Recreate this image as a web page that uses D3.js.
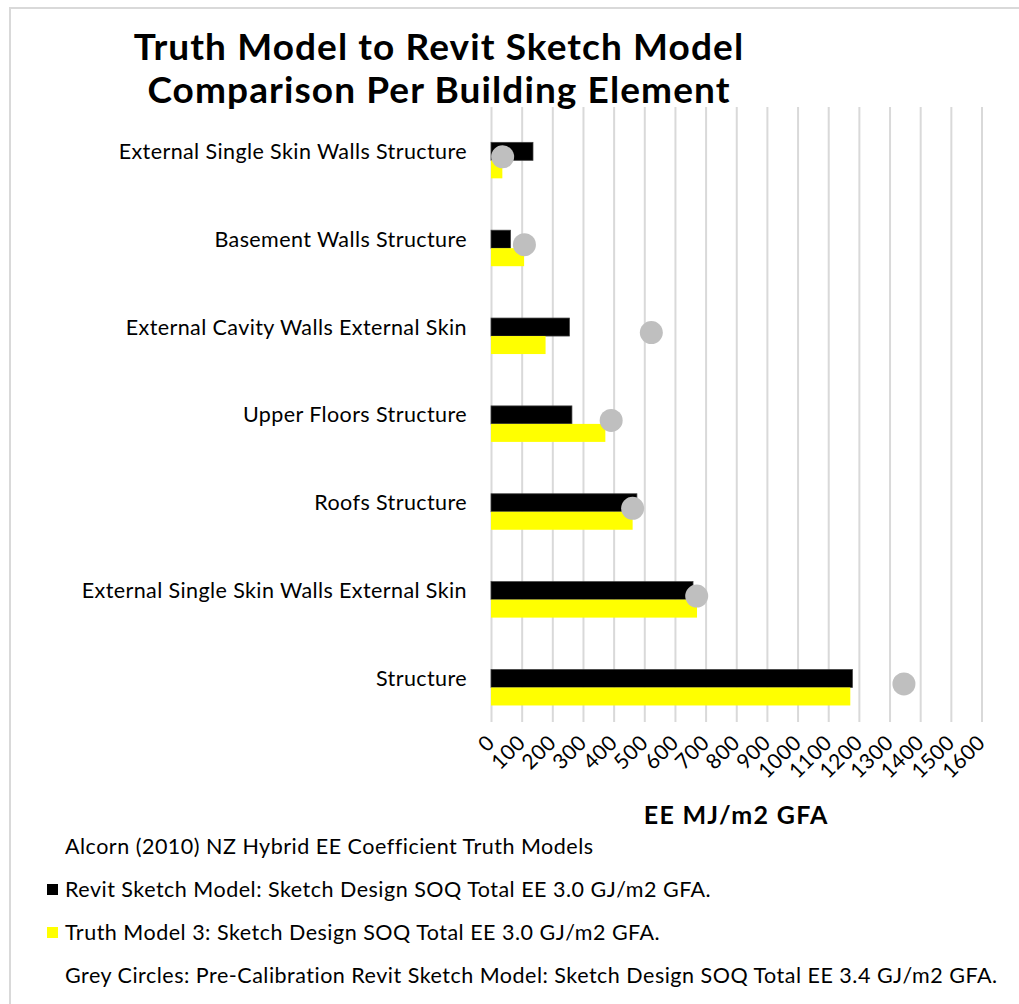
<!DOCTYPE html>
<html>
<head>
    <meta charset="utf-8">
    <style>
        body { margin: 0; background: #fff; }
        text { font-family: Lato, "Open Sans", sans-serif; fill: #000; }
    </style>
</head>
<body>
    <script src="https://d3js.org/d3.v7.min.js"></script>
    <script>
        const width = 1019;
        const height = 1004;

        // categories, top to bottom
        const categories = [
            "External Single Skin Walls Structure",
            "Basement Walls Structure",
            "External Cavity Walls External Skin",
            "Upper Floors Structure",
            "Roofs Structure",
            "External Single Skin Walls External Skin",
            "Structure"
        ];
        // EE MJ/m2 GFA per element
        const revitSketch = [137, 64, 256, 264, 476, 659, 1179];
        const truthModel3 = [37, 108, 178, 373, 462, 672, 1172];
        const preCalibration = [38, 109, 523, 392, 462, 671, 1347];

        const xTicks = [0, 100, 200, 300, 400, 500, 600, 700, 800, 900, 1000, 1100, 1200, 1300, 1400, 1500, 1600];

        const titleLines = ["Truth Model to Revit Sketch Model", "Comparison Per Building Element"];
        const axisTitle = "EE MJ/m2 GFA";
        const notes = [
            {text: "Alcorn (2010) NZ Hybrid EE Coefficient Truth Models", swatch: null},
            {text: "Revit Sketch Model: Sketch Design SOQ Total EE 3.0 GJ/m2 GFA.", swatch: "#000000"},
            {text: "Truth Model 3: Sketch Design SOQ Total EE 3.0 GJ/m2 GFA.", swatch: "#ffff00"},
            {text: "Grey Circles: Pre-Calibration Revit Sketch Model: Sketch Design SOQ Total EE 3.4 GJ/m2 GFA.", swatch: null}
        ];

        const plot = {left: 491, right: 981.5, top: 107, bottom: 722};
        const barH = 18;
        const groupShift = 9.4; // bars sit a little below the band centre

        const svg = d3.select("body").append("svg")
            .attr("width", width).attr("height", height);

        // chart border (only top and left visible in the crop)
        svg.append("rect")
            .attr("x", 10).attr("y", 8)
            .attr("width", 1040).attr("height", 1040)
            .attr("fill", "none")
            .attr("stroke", "#d9d9d9")
            .attr("stroke-width", 2);

        const x = d3.scaleLinear().domain([0, 1600]).range([plot.left, plot.right]);
        const y = d3.scaleBand().domain(categories).range([plot.top, plot.bottom]);
        const mid = c => y(c) + y.bandwidth() / 2 + groupShift;

        // gridlines
        const grid = svg.append("g")
            .attr("transform", `translate(0,${plot.bottom})`)
            .call(d3.axisBottom(x).tickValues(xTicks).tickSize(-(plot.bottom - plot.top)).tickFormat(""));
        grid.select(".domain").remove();
        grid.selectAll("line").attr("stroke", "#d9d9d9").attr("stroke-width", 2);

        // tick labels, rotated
        svg.append("g").selectAll("text")
            .data(xTicks)
            .join("text")
            .attr("transform", d => `translate(${x(d) + 5},${plot.bottom + 22}) rotate(-45)`)
            .attr("text-anchor", "end")
            .attr("font-size", 21)
            .attr("letter-spacing", 0.4)
            .text(d => d);

        // bars
        svg.append("g").selectAll("rect")
            .data(categories)
            .join("rect")
            .attr("x", x(0))
            .attr("y", c => mid(c) - barH)
            .attr("width", (c, i) => x(revitSketch[i]) - x(0))
            .attr("height", barH)
            .attr("fill", "#000")
            .attr("stroke", "#404040")
            .attr("stroke-width", 0.75);

        svg.append("g").selectAll("rect")
            .data(categories)
            .join("rect")
            .attr("x", x(0))
            .attr("y", c => mid(c))
            .attr("width", (c, i) => x(truthModel3[i]) - x(0))
            .attr("height", barH)
            .attr("fill", "#ffff00");

        // grey circles
        svg.append("g").selectAll("circle")
            .data(categories)
            .join("circle")
            .attr("cx", (c, i) => x(preCalibration[i]))
            .attr("cy", c => mid(c) - 3.5)
            .attr("r", 11.5)
            .attr("fill", "#bfbfbf");

        // category labels
        svg.append("g").selectAll("text")
            .data(categories)
            .join("text")
            .attr("x", 467)
            .attr("y", c => mid(c) - 9)
            .attr("dy", "0.35em")
            .attr("text-anchor", "end")
            .attr("font-size", 21.5)
            .attr("letter-spacing", 0.4)
            .text(c => c);

        // title
        svg.append("g").selectAll("text")
            .data(titleLines)
            .join("text")
            .attr("x", 439)
            .attr("y", (d, i) => 60 + i * 43)
            .attr("text-anchor", "middle")
            .attr("font-size", 37)
            .attr("font-weight", "bold")
            .attr("letter-spacing", 1.1)
            .text(d => d);

        // axis title
        svg.append("text")
            .attr("x", (plot.left + plot.right) / 2)
            .attr("y", 824)
            .attr("text-anchor", "middle")
            .attr("font-size", 25)
            .attr("font-weight", "bold")
            .attr("letter-spacing", 1.3)
            .text(axisTitle);

        // notes / legend
        const note = svg.append("g").selectAll("g")
            .data(notes)
            .join("g")
            .attr("transform", (d, i) => `translate(0,${854 + i * 43})`);
        note.append("text")
            .attr("x", 65)
            .attr("font-size", 21.5)
            .attr("letter-spacing", 0.5)
            .text(d => d.text);
        note.filter(d => d.swatch)
            .append("rect")
            .attr("x", 47).attr("y", -13)
            .attr("width", 11).attr("height", 11)
            .attr("fill", d => d.swatch);
    </script>
</body>
</html>
